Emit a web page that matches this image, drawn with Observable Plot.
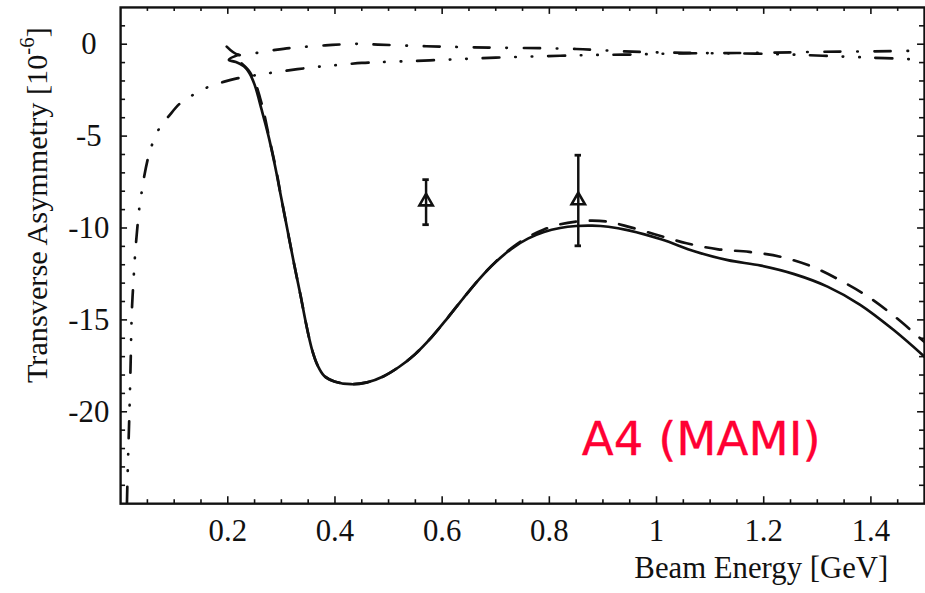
<!DOCTYPE html>
<html><head><meta charset="utf-8">
<script src="https://cdn.jsdelivr.net/npm/d3@7"></script>
<script src="https://cdn.jsdelivr.net/npm/@observablehq/plot@0.6"></script>
<style>html,body{margin:0;padding:0;overflow:hidden;background:#fff}</style>
</head><body><div id="chart"></div>
<script>
// Axis tick labels
const xTicks = [0.2, 0.4, 0.6, 0.8, 1, 1.2, 1.4];
const yTicks = [0, -5, -10, -15, -20];

// Solid curve (full calculation)
const solidE = [0.220,0.202,0.215,0.230,0.240,0.250,0.263,0.276,0.288,0.300,0.312,0.324,0.336,0.346,0.357,0.368,0.380,0.399,0.430,0.460,0.490,0.520,0.550,0.580,0.610,0.640,0.670,0.700,0.730,0.760,0.790,0.820,0.850,0.880,0.910,0.948,1.010,1.072,1.133,1.195,1.257,1.319,1.380,1.442,1.500];
const solidA = [-0.58,-0.85,-0.97,-1.20,-1.55,-2.20,-3.55,-5.00,-6.60,-8.40,-10.2,-12.0,-13.7,-15.2,-16.6,-17.5,-18.05,-18.35,-18.50,-18.40,-18.08,-17.55,-16.85,-15.95,-14.90,-13.80,-12.75,-11.85,-11.12,-10.58,-10.22,-10.00,-9.89,-9.87,-9.93,-10.13,-10.63,-11.28,-11.75,-12.05,-12.51,-13.19,-14.18,-15.54,-17.00];

// Dashed curve
const dashedE = [0.226,0.238,0.250,0.260,0.268,0.278,0.290,0.300,0.312,0.324,0.336,0.346,0.357,0.368,0.380,0.399,0.430,0.460,0.490,0.520,0.550,0.580,0.610,0.640,0.670,0.700,0.730,0.760,0.790,0.820,0.850,0.880,0.910,0.940,0.998,1.056,1.115,1.173,1.232,1.290,1.346,1.396,1.448,1.484,1.500];
const dashedA = [-1.05,-1.40,-2.00,-2.90,-3.80,-5.20,-6.80,-8.40,-10.2,-12.0,-13.7,-15.2,-16.6,-17.5,-18.05,-18.35,-18.50,-18.40,-18.08,-17.55,-16.85,-15.95,-14.90,-13.80,-12.75,-11.83,-11.08,-10.50,-10.08,-9.80,-9.65,-9.60,-9.66,-9.87,-10.35,-10.83,-11.16,-11.30,-11.57,-12.10,-12.90,-13.76,-14.90,-15.80,-16.20];

// Dash-dotted curve (upper)
const dashDotE = [0.198,0.220,0.259,0.289,0.318,0.350,0.395,0.442,0.480,0.570,0.660,0.850,0.940,1.050,1.150,1.250,1.310,1.400,1.500];
const dashDotA = [-0.13,-0.58,-0.45,-0.31,-0.20,-0.13,-0.04,0.02,-0.02,-0.11,-0.17,-0.26,-0.39,-0.47,-0.48,-0.44,-0.41,-0.39,-0.35];

// Dash-dot-dotted curve (rising from threshold)
const dashDotDotE = [0.0118,0.0135,0.0150,0.0165,0.0178,0.0190,0.0200,0.0215,0.0240,0.0260,0.0285,0.0315,0.0350,0.0396,0.044,0.052,0.059,0.073,0.090,0.112,0.136,0.164,0.192,0.217,0.250,0.285,0.330,0.374,0.406,0.450,0.480,0.577,0.700,0.820,0.897,0.940,1.050,1.150,1.250,1.310,1.400,1.480,1.500];
const dashDotDotA = [-25.0,-23.0,-21.5,-20.0,-18.5,-17.0,-15.5,-14.2,-12.9,-11.9,-10.9,-9.9,-8.9,-8.0,-7.2,-6.1,-5.44,-4.54,-3.91,-3.19,-2.74,-2.32,-2.05,-1.86,-1.70,-1.54,-1.36,-1.21,-1.13,-1.02,-0.98,-0.88,-0.73,-0.63,-0.58,-0.57,-0.50,-0.50,-0.56,-0.63,-0.73,-0.82,-0.84];

// A4 (MAMI) data points
const dataE  = [0.570, 0.854];
const dataA  = [-8.56, -8.50];
const dataLo = [-9.82, -10.97];
const dataHi = [-7.37, -6.04];

const labelText = "A4 (MAMI)";

const zip = (xs, ys) => xs.map((x, i) => ({x, y: ys[i]}));
const solid = zip(solidE, solidA);
const dashed = zip(dashedE, dashedA);
const dashDot = zip(dashDotE, dashDotA);
const dashDotDot = zip(dashDotDotE, dashDotDotA);
const points = dataE.map((x, i) => ({x, y: dataA[i], lo: dataLo[i], hi: dataHi[i]}));

const W = 932, H = 593, mL = 121, mR = 1, mT = 7, mB = 86;
const fw = W - mL - mR, fh = H - mT - mB;
const minorX = d3.range(1, 30).filter(i => i % 4 !== 0).map(i => i * 0.05);
const majorX = d3.range(1, 8).map(i => i * 0.2);
const minorY = d3.range(-24, 2).filter(v => v % 5 !== 0);
const majorY = yTicks;
const tickStyle = {stroke: "#111", strokeWidth: 1.6};

const serif = "'Liberation Serif', 'Times New Roman', serif";

const chart = Plot.plot({
  width: W, height: H,
  marginLeft: mL, marginRight: mR, marginTop: mT, marginBottom: mB,
  style: {fontFamily: serif, fontSize: "31px", color: "#111", background: "white"},
  x: {domain: [0, 1.5], axis: null},
  y: {domain: [-25, 2], axis: null},
  marks: [
    // inward ticks, bottom / top
    Plot.ruleX(minorX, {x: d => d, insetTop: fh - 4, ...tickStyle}),
    Plot.ruleX(majorX, {x: d => d, insetTop: fh - 7, ...tickStyle}),
    Plot.ruleX(minorX, {x: d => d, insetBottom: fh - 4, ...tickStyle}),
    Plot.ruleX(majorX, {x: d => d, insetBottom: fh - 7, ...tickStyle}),
    // inward ticks, left / right
    Plot.ruleY(minorY, {y: d => d, insetRight: fw - 5, ...tickStyle}),
    Plot.ruleY(majorY, {y: d => d, insetRight: fw - 7, ...tickStyle}),
    Plot.ruleY(minorY, {y: d => d, insetLeft: fw - 5, ...tickStyle}),
    Plot.ruleY(majorY, {y: d => d, insetLeft: fw - 7, ...tickStyle}),
    Plot.axisX({ticks: xTicks, tickSize: 0, tickPadding: 16, tickFormat: d => String(d), fontSize: 31, label: null}),
    Plot.axisY({ticks: yTicks, tickSize: 0, tickPadding: 32, textAnchor: "middle", tickFormat: d => String(d), fontSize: 31, label: null}),
    Plot.line(dashDotDot, {x: "x", y: "y", stroke: "#111", strokeWidth: 2.7, strokeDasharray: "17,16,0.5,16,0.5,16", strokeLinecap: "round", curve: "catmull-rom", clip: true}),
    Plot.line(dashDot, {x: "x", y: "y", stroke: "#111", strokeWidth: 2.7, strokeDasharray: "16,17,0.5,17", strokeLinecap: "round", curve: "catmull-rom", clip: true}),
    Plot.line(dashed, {x: "x", y: "y", stroke: "#111", strokeWidth: 2.7, strokeDasharray: "16,14", curve: "catmull-rom", clip: true}),
    Plot.line(solid, {x: "x", y: "y", stroke: "#111", strokeWidth: 2.7, curve: "catmull-rom", clip: true}),
    Plot.dot(points, {x: "x", y: "y", symbol: "triangle", r: 5, fill: "white", stroke: "#111", strokeWidth: 2.6}),
    Plot.ruleX(points, {x: "x", y1: "lo", y2: "hi", stroke: "#111", strokeWidth: 2.5}),
    Plot.ruleY(points, {y: "lo", x1: d => d.x - 0.006, x2: d => d.x + 0.006, stroke: "#111", strokeWidth: 2.8}),
    Plot.ruleY(points, {y: "hi", x1: d => d.x - 0.006, x2: d => d.x + 0.006, stroke: "#111", strokeWidth: 2.8}),
    Plot.text([labelText], {text: d => d, frameAnchor: "bottom", dx: 180, dy: -64, lineAnchor: "middle", fill: "#ff0033", stroke: "#ff0033", strokeWidth: 0.3, fontSize: 47, fontFamily: "'Comic Sans MS', 'DejaVu Sans', sans-serif", letterSpacing: 5.5}),
    Plot.frame({stroke: "#111", strokeWidth: 2.4})
  ]
});

document.getElementById("chart").appendChild(chart);

// Axis titles
const svg = d3.select(chart);
svg.append("text")
  .attr("x", 895).attr("y", 582)
  .attr("text-anchor", "end")
  .attr("font-family", serif).attr("font-size", 31).attr("fill", "#111")
  .text("Beam Energy [GeV]");

const yt = svg.append("text")
  .attr("transform", "translate(47,386) rotate(-90)")
  .attr("text-anchor", "start")
  .attr("font-family", serif).attr("font-size", 30.5).attr("fill", "#111");
yt.append("tspan").text("Transverse Asymmetry [10");
yt.append("tspan").attr("dy", -13).attr("font-size", 21).text("-6");
yt.append("tspan").attr("dy", 13).text("]");
</script>
</body></html>
